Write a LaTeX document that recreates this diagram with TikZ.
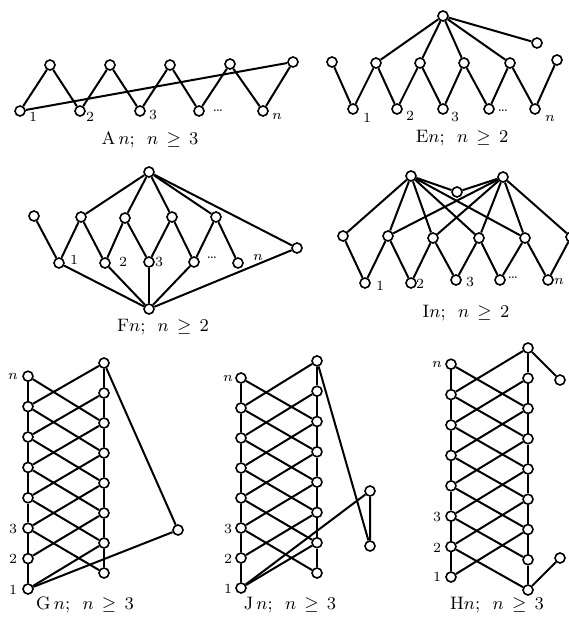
\documentclass[tikz,border=0pt]{standalone}
\begin{document}
\begin{tikzpicture}[x=0.5pt, y=-0.5pt, line width=1pt,
  vtx/.style={circle, draw, fill=white, inner sep=0pt, minimum size=5pt, line width=0.8pt},
  lbl/.style={font=\fontsize{7}{8}\selectfont, inner sep=0.5pt},
  captxt/.style={font=\fontsize{9}{10}\selectfont, inner sep=1pt}]
\useasboundingbox (0,0) rectangle (568,625);

% ================= A_n =================
\foreach \i/\x in {1/20,2/80,3/140,4/199,5/263}
  \node[vtx] (ab\i) at (\x,111) {};
\foreach \i/\x/\y in {1/50/65,2/110/65,3/170/65,4/230/64,5/293/62}
  \node[vtx] (at\i) at (\x,\y) {};
\foreach \i in {1,...,5} \draw (ab\i) -- (at\i);
\foreach \i/\j in {1/2,2/3,3/4,4/5} \draw (at\i) -- (ab\j);
\draw (ab1) -- (at5);
\foreach \i/\t/\x/\y in {1/1/33/117,2/2/90/117,3/3/153/115,4/{\ldots}/218/111,5/$n$/277/116}
  \node[lbl] (al\i) at (\x,\y) {\t};
\node[captxt] (acap) at (150,140) {A$\,n$; \ $n\,\geq\,3$};

% ================= E_n =================
\node[vtx] (et) at (443,16) {};
\node[vtx] (er) at (537,43) {};
\foreach \i/\x/\y in {1/332/62,2/376/63,3/420/63,4/464/63,5/510/63,6/557/60}
  \node[vtx] (em\i) at (\x,\y) {};
\foreach \i/\x in {1/353,2/397,3/443,4/489,5/535}
  \node[vtx] (eb\i) at (\x,109) {};
\foreach \i/\j in {1/2,2/3,3/4,4/5,5/6} {
  \draw (em\i) -- (eb\i);
  \draw (eb\i) -- (em\j);
}
\foreach \i in {2,...,5} \draw (et) -- (em\i);
\draw (et) -- (er);
\foreach \i/\t/\x/\y in {1/1/367/118,2/2/410/116,3/3/455/117,4/{\ldots}/503/111,5/$n$/550/118}
  \node[lbl] (el\i) at (\x,\y) {\t};
\node[captxt] (ecap) at (462,138) {E$n$; \ $n\,\geq\,2$};

% ================= F_n =================
\node[vtx] (ft) at (149,172) {};
\node[vtx] (fr) at (297,248) {};
\node[vtx] (fb) at (149,309) {};
\foreach \i/\x/\y in {1/34/216,2/81/217,3/125/218,4/172/217,5/216/217}
  \node[vtx] (fm\i) at (\x,\y) {};
\foreach \i/\x/\y in {1/59/263,2/105/263,3/149/262,4/194/262,5/238/263}
  \node[vtx] (fl\i) at (\x,\y) {};
\foreach \i in {1,...,5} \draw (fm\i) -- (fl\i);
\foreach \i/\j in {1/2,2/3,3/4,4/5} \draw (fl\i) -- (fm\j);
\foreach \i in {2,...,5} \draw (ft) -- (fm\i);
\draw (ft) -- (fr);
\foreach \i in {1,...,4} \draw (fb) -- (fl\i);
\draw (fb) -- (fr);
\foreach \i/\t/\x/\y in {1/1/74/260,2/2/123/262,3/3/159/262,4/{\ldots}/212/258,5/$n$/258/257}
  \node[lbl] (flb\i) at (\x,\y) {\t};
\node[captxt] (fcap) at (163,327) {F$n$; \ $n\,\geq\,2$};

% ================= I_n =================
\node[vtx] (itl) at (411,176) {};
\node[vtx] (itr) at (503,177) {};
\node[vtx] (imid) at (457,192) {};
\foreach \i/\x/\y in {1/343/236,2/388/236,3/433/238,4/479/238,5/525/238,6/571/237}
  \node[vtx] (im\i) at (\x,\y) {};
\foreach \i/\x/\y in {1/365/283,2/411/283,3/456/280,4/500/280,5/548/280}
  \node[vtx] (ib\i) at (\x,\y) {};
\foreach \i/\j in {1/2,2/3,3/4,4/5,5/6} {
  \draw (im\i) -- (ib\i);
  \draw (ib\i) -- (im\j);
}
\foreach \i in {1,...,5} \draw (itl) -- (im\i);
\foreach \i in {2,...,6} \draw (itr) -- (im\i);
\draw (itl) -- (imid) -- (itr);
\foreach \i/\t/\x/\y in {1/1/380/286,2/2/420/284,3/3/470/282,4/{\ldots}/513/278,5/$n$/559/281}
  \node[lbl] (il\i) at (\x,\y) {\t};
\node[captxt] (icap) at (466,313) {I$n$; \ $n\,\geq\,2$};

% ================= G_n =================
\foreach \i in {1,...,8} {
  \pgfmathsetmacro\y{589-30.4*(\i-1)}
  \node[vtx] (gl\i) at (28,\y) {};
}
\foreach \i in {1,...,8} {
  \pgfmathsetmacro\y{573-30*(\i-1)}
  \node[vtx] (gr\i) at (104,\y) {};
}
\node[vtx] (gf) at (178,530) {};
\foreach \i [count=\j from 2] in {1,...,7} {
  \draw (gl\i) -- (gl\j);
  \draw (gr\i) -- (gr\j);
  \draw (gl\i) -- (gr\j);
}
\foreach \i [count=\k] in {3,...,8} \draw (gl\i) -- (gr\k);
\draw (gr8) -- (gf) -- (gl1);
\foreach \i/\t/\y in {8/$n$/376,3/3/529,2/2/559,1/1/590}
  \node[lbl] (glb\i) at (13,\y) {\t};
\node[captxt] (gcap) at (85,605) {G$\,n$; \ $n\,\geq\,3$};

% ================= J_n =================
\foreach \i in {1,...,8} {
  \pgfmathsetmacro\y{588-30*(\i-1)}
  \node[vtx] (jl\i) at (241,\y) {};
}
\foreach \i in {1,...,8} {
  \pgfmathsetmacro\y{573-30.3*(\i-1)}
  \node[vtx] (jr\i) at (317,\y) {};
}
\node[vtx] (jfu) at (370,491) {};
\node[vtx] (jfl) at (370,546) {};
\foreach \i [count=\j from 2] in {1,...,7} {
  \draw (jl\i) -- (jl\j);
  \draw (jr\i) -- (jr\j);
  \draw (jl\i) -- (jr\j);
}
\foreach \i [count=\k] in {3,...,8} \draw (jl\i) -- (jr\k);
\draw (jr8) -- (jfl) -- (jfu) -- (jl1);
\foreach \i/\t/\y in {8/$n$/378,3/3/529,2/2/559,1/1/589}
  \node[lbl] (jlb\i) at (228,\y) {\t};
\node[captxt] (jcap) at (290,605) {J$\,n$; \ $n\,\geq\,3$};

% ================= H_n =================
\foreach \i in {1,...,8} {
  \pgfmathsetmacro\y{577-30.4*(\i-1)}
  \node[vtx] (hl\i) at (451,\y) {};
}
\foreach \i in {1,...,9} {
  \pgfmathsetmacro\y{590-30.25*(\i-1)}
  \node[vtx] (hr\i) at (528,\y) {};
}
\node[vtx] (hfu) at (560,380) {};
\node[vtx] (hfl) at (560,558) {};
\foreach \i [count=\j from 2] in {1,...,7} \draw (hl\i) -- (hl\j);
\foreach \i [count=\j from 2] in {1,...,8} \draw (hr\i) -- (hr\j);
\foreach \i [count=\j from 3] in {1,...,7} \draw (hl\i) -- (hr\j);
\foreach \i [count=\k] in {2,...,8} \draw (hl\i) -- (hr\k);
\draw (hr9) -- (hfu);
\draw (hr1) -- (hfl);
\foreach \i/\t/\y in {8/$n$/364,3/3/517,2/2/548,1/1/577}
  \node[lbl] (hlb\i) at (437,\y) {\t};
\node[captxt] (hcap) at (497,605) {H$n$; \ $n\,\geq\,3$};
\end{tikzpicture}
\end{document}
